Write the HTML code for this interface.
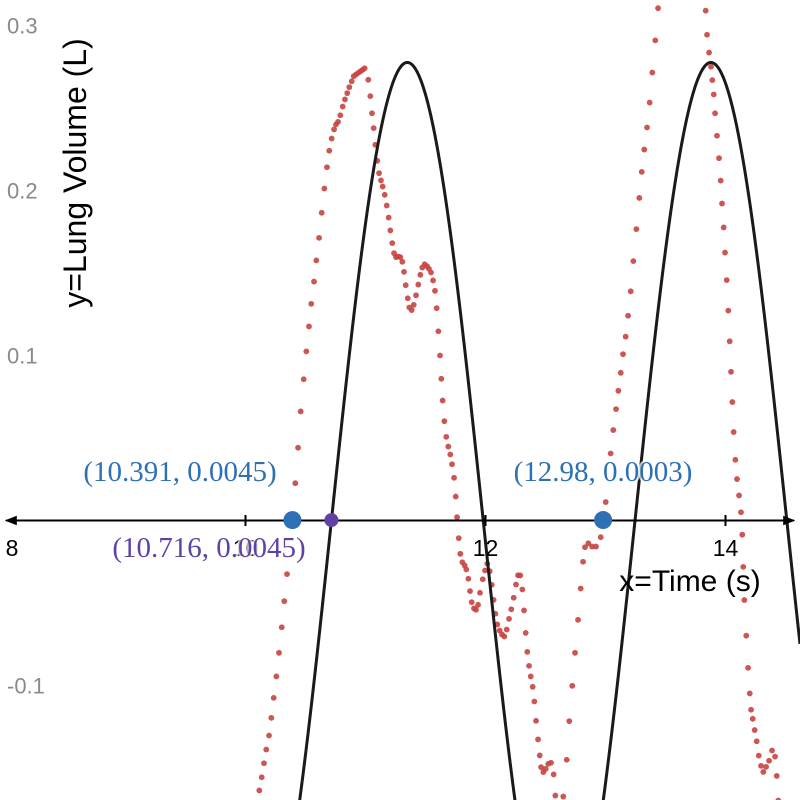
<!DOCTYPE html>
<html><head><meta charset="utf-8"><style>
html,body{margin:0;padding:0;background:#fff;width:800px;height:800px;overflow:hidden;}
svg{display:block;}
</style></head><body>
<svg id="chart" width="800" height="800" viewBox="0 0 800 800" xmlns="http://www.w3.org/2000/svg">
<defs>
<marker id="arr" viewBox="0 0 10 10" refX="9" refY="5" markerWidth="6" markerHeight="6" orient="auto-start-reverse"><path d="M0,1 L10,5 L0,9 Z" fill="#000"/></marker>
</defs>
<g id="marks"></g>
</svg>
<script>
const xTicks = [8, 10, 12, 14];
const yTicks = [0.3, 0.2, 0.1, -0.1];
const yTickLabels = ["0.3", "0.2", "0.1", "-0.1"];
const dataX = [10.115,10.135,10.154,10.173,10.196,10.215,10.235,10.257,10.279,10.302,10.323,10.346,10.415,10.438,10.460,10.485,10.507,10.529,10.548,10.571,10.590,10.613,10.635,10.657,10.679,10.698,10.718,10.738,10.754,10.771,10.790,10.810,10.829,10.848,10.865,10.885,10.902,10.921,10.940,10.960,10.977,10.993,11.023,11.040,11.054,11.068,11.082,11.098,11.113,11.129,11.143,11.160,11.177,11.193,11.207,11.223,11.238,11.254,11.271,11.290,11.307,11.321,11.335,11.352,11.365,11.385,11.402,11.421,11.440,11.457,11.473,11.493,11.513,11.529,11.546,11.563,11.579,11.593,11.607,11.621,11.632,11.643,11.657,11.673,11.690,11.707,11.721,11.738,11.752,11.763,11.777,11.790,11.807,11.827,11.840,11.857,11.871,11.885,11.904,11.921,11.938,11.954,11.977,11.996,12.015,12.035,12.052,12.068,12.082,12.098,12.118,12.138,12.157,12.177,12.196,12.215,12.235,12.254,12.271,12.290,12.307,12.321,12.335,12.348,12.363,12.377,12.393,12.407,12.421,12.438,12.452,12.463,12.482,12.502,12.523,12.546,12.568,12.582,12.648,12.677,12.698,12.723,12.746,12.771,12.793,12.813,12.829,12.857,12.888,12.921,12.960,13.002,13.043,13.065,13.088,13.107,13.127,13.146,13.168,13.188,13.210,13.232,13.257,13.282,13.302,13.323,13.346,13.368,13.390,13.415,13.438,13.835,13.846,13.863,13.879,13.890,13.902,13.913,13.929,13.946,13.960,13.971,13.985,13.996,14.010,14.023,14.035,14.046,14.057,14.068,14.082,14.096,14.113,14.129,14.140,14.148,14.157,14.173,14.188,14.202,14.213,14.227,14.243,14.260,14.277,14.296,14.315,14.338,14.363,14.388,14.413,14.427,14.440];
const dataY = [-0.1636,-0.1556,-0.1471,-0.1388,-0.1303,-0.1196,-0.1075,-0.0945,-0.0802,-0.0647,-0.0489,-0.0325,0.0226,0.0441,0.0661,0.0856,0.1025,0.1176,0.1313,0.1448,0.1576,0.1713,0.1865,0.2012,0.2141,0.2241,0.2315,0.2370,0.2400,0.2416,0.2456,0.2509,0.2552,0.2590,0.2626,0.2662,0.2693,0.2703,0.2713,0.2723,0.2732,0.2741,0.2671,0.2572,0.2468,0.2378,0.2277,0.2180,0.2105,0.2061,0.2024,0.1974,0.1909,0.1836,0.1758,0.1681,0.1620,0.1596,0.1600,0.1596,0.1568,0.1507,0.1426,0.1347,0.1291,0.1275,0.1307,0.1365,0.1430,0.1489,0.1533,0.1553,0.1541,0.1525,0.1503,0.1455,0.1392,0.1287,0.1147,0.1000,0.0859,0.0727,0.0602,0.0507,0.0448,0.0400,0.0341,0.0259,0.0145,0.0020,-0.0107,-0.0202,-0.0253,-0.0273,-0.0297,-0.0353,-0.0428,-0.0495,-0.0533,-0.0541,-0.0511,-0.0438,-0.0356,-0.0303,-0.0262,-0.0307,-0.0390,-0.0481,-0.0565,-0.0630,-0.0667,-0.0691,-0.0703,-0.0661,-0.0596,-0.0538,-0.0468,-0.0388,-0.0332,-0.0333,-0.0418,-0.0545,-0.0681,-0.0796,-0.0881,-0.0945,-0.1008,-0.1097,-0.1214,-0.1327,-0.1424,-0.1495,-0.1525,-0.1505,-0.1475,-0.1468,-0.1539,-0.1667,-0.1673,-0.1450,-0.1216,-0.1002,-0.0802,-0.0602,-0.0412,-0.0250,-0.0162,-0.0138,-0.0158,-0.0158,-0.0101,0.0112,0.0406,0.0548,0.0675,0.0786,0.0895,0.1008,0.1114,0.1241,0.1389,0.1572,0.1766,0.1955,0.2113,0.2248,0.2382,0.2533,0.2715,0.2910,0.3105,0.3090,0.2944,0.2836,0.2750,0.2669,0.2582,0.2468,0.2332,0.2196,0.2060,0.1921,0.1776,0.1624,0.1457,0.1272,0.1086,0.0901,0.0718,0.0536,0.0368,0.0251,0.0152,0.0050,-0.0086,-0.0281,-0.0482,-0.0698,-0.0893,-0.1048,-0.1147,-0.1202,-0.1270,-0.1338,-0.1425,-0.1487,-0.1524,-0.1493,-0.1456,-0.1394,-0.1431,-0.1548,-0.1697];
const fitAmp = [0.2776];
const fitPeriod = [2.53];
const fitZero = [10.716];
const fitDomainStart = [10.2];
const pointsX = [10.391, 10.716, 12.98];
const pointsY = [0.0045, 0.0045, 0.0003];
const pointLabels = ["(10.391, 0.0045)", "(10.716, 0.0045)", "(12.98, 0.0003)"];

const NS = "http://www.w3.org/2000/svg";
const sx = v => 485.5 + (v - 12) * 120;
const sy = v => 520.5 - v * 1650;
const g = document.getElementById('marks');
function mk(tag, attrs, parent) {
  const e = document.createElementNS(NS, tag);
  for (const k in attrs) e.setAttribute(k, attrs[k]);
  (parent || g).appendChild(e);
  return e;
}

// red data points
const dots = mk('g', {});


for (let i = 0; i < dataX.length; i++) {
  const c = mk('circle', {cx: sx(dataX[i]), cy: sy(dataY[i]), r: 2.9, fill: '#c74440', 'fill-opacity': 0.9}, dots);
  
  
}

// fitted sine (restricted domain)
let d = '';
let first = true;
for (let px = Math.floor(sx(fitDomainStart[0])); px <= 800; px += 1) {
  const x = 12 + (px - 485.5) / 120;
  const y = fitAmp[0] * Math.sin(2 * Math.PI * (x - fitZero[0]) / fitPeriod[0]);
  d += (first ? 'M' : 'L') + px + ',' + sy(y).toFixed(2);
  first = false;
}
const fit = mk('path', {d: d, fill: 'none', stroke: '#1a1a1a', 'stroke-width': 3});



// x axis
const ax = mk('line', {x1: 6, y1: 520.5, x2: 794, y2: 520.5, stroke: '#000', 'stroke-width': 2, 'marker-start': 'url(#arr)', 'marker-end': 'url(#arr)'});


for (let i = 0; i < xTicks.length; i++) {
  const X = sx(xTicks[i]);
  if (xTicks[i] !== 8) {
    const t = mk('line', {x1: X, y1: 515, x2: X, y2: 526, stroke: '#000', 'stroke-width': 2});
    
    
  }
  const lx = xTicks[i] === 8 ? 12 : X;
  const tl = mk('text', {x: lx, y: 556, 'text-anchor': 'middle', 'font-family': 'Liberation Sans, sans-serif', 'font-size': 23, fill: '#000'});
  tl.textContent = String(xTicks[i]);
  
  
}
for (let i = 0; i < yTicks.length; i++) {
  const tl = mk('text', {x: 7, y: sy(yTicks[i]) + 8, 'font-family': 'Liberation Sans, sans-serif', 'font-size': 22, fill: '#8a8a8a'});
  tl.textContent = yTickLabels[i];
  
  
}

// titles
const yt = mk('text', {x: 0, y: 0, transform: 'translate(86,173) rotate(-90)', 'text-anchor': 'middle', 'font-family': 'Liberation Sans, sans-serif', 'font-size': 32, fill: '#000'});
yt.textContent = 'y=Lung Volume (L)';


const xt = mk('text', {x: 690, y: 591, 'text-anchor': 'middle', 'font-family': 'Liberation Sans, sans-serif', 'font-size': 30, fill: '#000'});
xt.textContent = 'x=Time (s)';



// labeled points
const pColors = ['#2d70b3', '#6042a6', '#2d70b3'];
const pR = [9, 7, 9];
const lblPos = [[180, 481], [209, 557], [603, 481]];
for (let i = 0; i < pointsX.length; i++) {
  const lb = mk('text', {x: lblPos[i][0], y: lblPos[i][1], 'text-anchor': 'middle', 'font-family': 'Liberation Serif, serif', 'font-size': 29, fill: pColors[i], stroke: '#fff', 'stroke-width': 4, 'paint-order': 'stroke', 'stroke-opacity': 0.7});
  lb.textContent = pointLabels[i];
  
  
  const c = mk('circle', {cx: sx(pointsX[i]), cy: sy(pointsY[i]) + (i === 2 ? 0 : 7), r: pR[i], fill: pColors[i]});
  
  
}
</script>
</body></html>
